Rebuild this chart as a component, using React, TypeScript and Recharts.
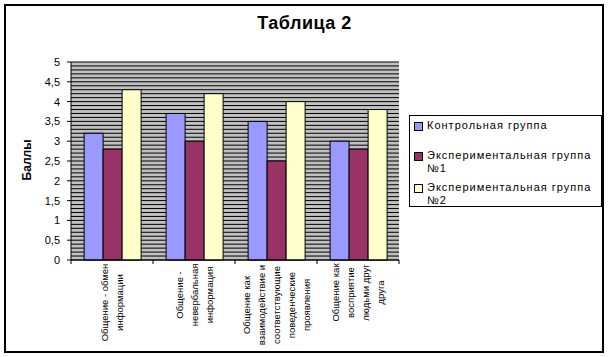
import { BarChart, Bar, XAxis, YAxis, CartesianGrid, Legend, Label } from 'recharts'

// category labels, already split into the lines used under the axis
const categoryLines = [
  ['Общение - обмен', 'информации'],
  ['Общение -', 'невербальная', 'информация'],
  ['Общение как', 'взаимодействие и', 'соответствующие', 'поведенческие', 'проявления'],
  ['Общение как', 'восприятие', 'людьми друг', 'друга'],
]
const categories = categoryLines.map((l) => l.join(' '))

const controlGroup = [3.2, 3.7, 3.5, 3.0]
const experimentalGroup1 = [2.8, 3.0, 2.5, 2.8]
const experimentalGroup2 = [4.3, 4.2, 4.0, 3.8]

const seriesNames = ['Контрольная группа', 'Экспериментальная группа №1', 'Экспериментальная группа №2']
const seriesColors = ['#9999ff', '#993366', '#ffffcc']

const yTicks = [0, 0.5, 1, 1.5, 2, 2.5, 3, 3.5, 4, 4.5, 5]
const Y_MAX = 5
const GRID_STEP = 0.1

const FONT = "'Liberation Sans', Arial, sans-serif"

const data = categories.map((name, i) => ({
  name,
  lines: categoryLines[i],
  control: controlGroup[i],
  exp1: experimentalGroup1[i],
  exp2: experimentalGroup2[i],
}))

const formatY = (v: number) => String(v).replace('.', ',')

// Excel-style tick: mark at category boundaries, label rotated and wrapped
const CategoryTick = (props: any) => {
  const { x, y, payload, width, visibleTicksCount, index } = props
  const half = payload.offset ?? width / visibleTicksCount / 2
  const lines: string[] = data[payload.index ?? index]?.lines ?? [payload.value]
  const longest = Math.max(...lines.map((l) => l.length))
  const cy = y + 5 + (longest * 5) / 2
  const step = 15
  return (
    <g>
      <line x1={x - half} x2={x - half} y1={y} y2={y + 4} stroke="#000" />
      {index === visibleTicksCount - 1 && (
        <line x1={x + half} x2={x + half} y1={y} y2={y + 4} stroke="#000" />
      )}
      {lines.map((line, i) => {
        const lx = x + (i - (lines.length - 1) / 2) * step
        return (
          <text
            key={i}
            x={lx}
            y={cy}
            transform={`rotate(-90, ${lx}, ${cy})`}
            textAnchor="middle"
            dominantBaseline="central"
            fontSize={9.5}
            fontFamily={FONT}
            fill="#000"
          >
            {line}
          </text>
        )
      })}
    </g>
  )
}

const LegendBox = () => (
  <div
    style={{
      border: '1px solid #000',
      background: '#fff',
      height: 92,
      boxSizing: 'border-box',
      padding: '3px 0 0 4px',
      fontFamily: FONT,
      fontSize: 11,
      letterSpacing: 1,
      lineHeight: '13px',
      color: '#000',
    }}
  >
    {seriesNames.map((name, i) => (
      <div
        key={name}
        style={{ display: 'flex', alignItems: 'flex-start', marginBottom: i === 0 ? 17 : 6 }}
      >
        <span
          style={{
            width: 7,
            height: 7,
            border: '1px solid #000',
            background: seriesColors[i],
            marginTop: 3,
            marginRight: 4,
            flexShrink: 0,
          }}
        />
        <span style={{ width: 176 }}>{name}</span>
      </div>
    ))}
  </div>
)

export default function App() {
  return (
    <div style={{ position: 'absolute', left: 0, top: 0, width: 609, height: 357, background: '#fff' }}>
      <div
        style={{
          position: 'absolute',
          left: 4,
          top: 4,
          width: 600,
          height: 349,
          border: '2px solid #000',
          boxSizing: 'border-box',
        }}
      />
      <div
        style={{
          position: 'absolute',
          left: 0,
          top: 13,
          width: 609,
          textAlign: 'center',
          fontFamily: FONT,
          fontWeight: 'bold',
          fontSize: 18,
          letterSpacing: 0.5,
          color: '#000',
        }}
      >
        Таблица 2
      </div>
      <BarChart
        width={609}
        height={357}
        data={data}
        margin={{ top: 62, right: 17, left: 31, bottom: 7 }}
        barCategoryGap="16%"
        barGap={0}
        style={{ position: 'absolute', left: 0, top: 0 }}
      >
        <CartesianGrid
          vertical={false}
          fill="#c0c0c0"
          stroke="#000"
          horizontalCoordinatesGenerator={({ offset }: any) => {
            const out: number[] = []
            for (let v = 0; v <= Y_MAX + 1e-9; v += GRID_STEP) {
              out.push(offset.top + offset.height * (1 - v / Y_MAX))
            }
            return out
          }}
        />
        <XAxis
          dataKey="name"
          height={90}
          interval={0}
          tickLine={false}
          tickSize={0}
          tickMargin={0}
          axisLine={{ stroke: '#000' }}
          tick={<CategoryTick />}
        />
        <YAxis
          width={40}
          domain={[0, Y_MAX]}
          ticks={yTicks}
          interval={0}
          tickFormatter={formatY}
          tickSize={4}
          tickMargin={7}
          axisLine={{ stroke: '#000' }}
          tickLine={{ stroke: '#000' }}
          tick={{ fill: '#000', fontSize: 11, fontFamily: FONT }}
        >
          <Label
            content={() => (
              <text
                x={27}
                y={160}
                transform="rotate(-90, 27, 160)"
                textAnchor="middle"
                dominantBaseline="central"
                fontSize={12}
                fontWeight="bold"
                fontFamily={FONT}
                fill="#000"
              >
                Баллы
              </text>
            )}
          />
        </YAxis>
        <Legend
          layout="vertical"
          align="right"
          verticalAlign="top"
          wrapperStyle={{ left: 409, top: 115, width: 193 }}
          content={<LegendBox />}
        />
        <Bar dataKey="control" name={seriesNames[0]} fill={seriesColors[0]} stroke="#000" isAnimationActive={false} />
        <Bar dataKey="exp1" name={seriesNames[1]} fill={seriesColors[1]} stroke="#000" isAnimationActive={false} />
        <Bar dataKey="exp2" name={seriesNames[2]} fill={seriesColors[2]} stroke="#000" isAnimationActive={false} />
      </BarChart>
    </div>
  )
}
